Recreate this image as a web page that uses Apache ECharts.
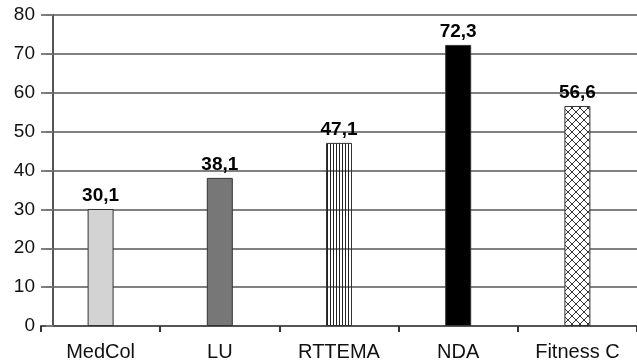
<!DOCTYPE html>
<html>
<head>
<meta charset="utf-8">
<script src="https://cdn.jsdelivr.net/npm/echarts@6/dist/echarts.min.js"></script>
<style>
  html, body { margin: 0; padding: 0; background: #fff; }
  #chart { width: 637px; height: 364px; }
</style>
</head>
<body>
<div id="chart"></div>
<script>
// Categories and values
var categories = ['MedCol', 'LU', 'RTTEMA', 'NDA', 'Fitness C'];
var values = [30.1, 38.1, 47.1, 72.3, 56.6];
var yTicks = [0, 10, 20, 30, 40, 50, 60, 70, 80];

// Fill patterns for the striped and cross-hatched bars
function stripePattern() {
  var c = document.createElement('canvas');
  c.width = 3; c.height = 3;
  var g = c.getContext('2d');
  g.fillStyle = '#222';
  g.fillRect(0, 0, 1, 3);
  return c;
}
function hatchPattern() {
  var c = document.createElement('canvas');
  c.width = 8; c.height = 8;
  var g = c.getContext('2d');
  g.fillStyle = '#fff';
  g.fillRect(0, 0, 8, 8);
  g.strokeStyle = '#333';
  g.lineWidth = 1;
  g.beginPath();
  g.moveTo(0, 0); g.lineTo(8, 8);
  g.moveTo(8, 0); g.lineTo(0, 8);
  g.stroke();
  return c;
}

var fills = [
  '#d3d3d3',
  '#777777',
  { image: stripePattern(), repeat: 'repeat' },
  '#000000',
  { image: hatchPattern(), repeat: 'repeat' }
];

var FONT = 'Liberation Sans, Arial, sans-serif';

var chart = echarts.init(document.getElementById('chart'), null, { renderer: 'canvas' });

var data = values.map(function (v, i) {
  return { value: v, itemStyle: { color: fills[i] } };
});

chart.setOption({
  animation: false,
  backgroundColor: '#fff',
  grid: { left: 41, right: 0, top: 15, bottom: 38, containLabel: false },
  xAxis: {
    type: 'category',
    data: categories,
    axisLine: { lineStyle: { color: '#555', width: 2 } },
    axisTick: { show: true, length: 6, lineStyle: { color: '#333', width: 2 } },
    axisLabel: { color: '#111', fontSize: 20, fontFamily: FONT, margin: 16 }
  },
  yAxis: {
    type: 'value',
    min: yTicks[0],
    max: yTicks[yTicks.length - 1],
    interval: yTicks[1] - yTicks[0],
    offset: -12,
    axisLine: { show: true, lineStyle: { color: '#555', width: 2 } },
    axisTick: { show: true, length: 7, lineStyle: { color: '#777', width: 2 } },
    axisLabel: { color: '#111', fontSize: 19, fontFamily: FONT, margin: 18 },
    splitLine: { show: true, lineStyle: { color: '#808080', width: 2 } }
  },
  series: [{
    type: 'bar',
    data: data,
    barWidth: 26,
    z: 1,
    itemStyle: { borderColor: '#333', borderWidth: 1 },
    label: {
      show: true,
      position: 'top',
      distance: 4,
      color: '#000',
      fontWeight: 'bold',
      fontSize: 19,
      fontFamily: FONT,
      formatter: function (p) { return p.value.toFixed(1).replace('.', ','); }
    }
  }]
});
</script>
</body>
</html>
